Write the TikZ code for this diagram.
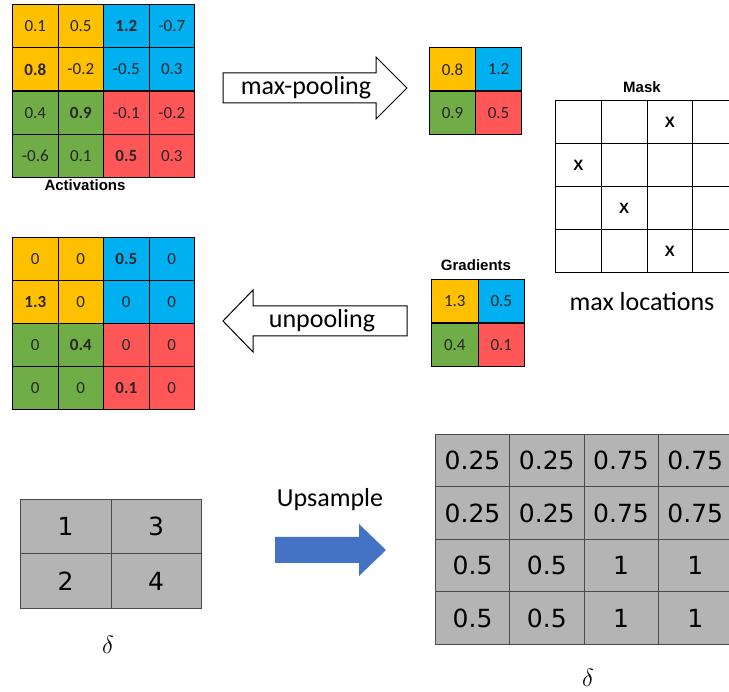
\documentclass[tikz,border=0pt]{standalone}
\usepackage{fontspec}
\setmainfont{Carlito}
\newfontfamily\labelfont{Liberation Sans}
\newfontfamily\gridfont{DejaVu Sans}

\definecolor{cellyellow}{HTML}{FFC000}
\definecolor{cellblue}{HTML}{00B0F0}
\definecolor{cellgreen}{HTML}{70AD47}
\definecolor{cellred}{HTML}{FF5757}
\definecolor{cellgray}{HTML}{B4B4B4}
\definecolor{gridline}{HTML}{4A4A4A}
\definecolor{arrowblue}{HTML}{4472C4}

% quadrant colour of a cell in a 4x4 pooling grid
\newcommand\pickcolor[2]{%
  \ifnum#1<2 \ifnum#2<2 \def\qc{cellyellow}\else\def\qc{cellblue}\fi
  \else \ifnum#2<2 \def\qc{cellgreen}\else\def\qc{cellred}\fi\fi}

\tikzset{
  cell/.style={draw=black, line width=1.1pt, inner sep=0pt, anchor=north west,
    text=black!85, font=\fontsize{17}{17}\selectfont},
  maskcell/.style={draw=black, line width=0.9pt, inner sep=0pt, anchor=north west,
    minimum width=45.75pt, minimum height=43pt, font=\labelfont\bfseries\fontsize{15}{15}\selectfont},
  graycell/.style={draw=gridline, line width=0.9pt, fill=cellgray, inner sep=0pt,
    anchor=north west, font=\gridfont\fontsize{25}{25}\selectfont},
  boldlabel/.style={font=\labelfont\bfseries\fontsize{15}{15}\selectfont},
  biglabel/.style={font=\fontsize{26}{26}\selectfont},
  deltalabel/.style={font=\fontsize{29}{29}\selectfont},
  blockarrow/.style={draw=black, line width=1pt, fill=white},
}

\begin{document}
\begin{tikzpicture}[x=1pt, y=-1pt]
\useasboundingbox (0,0) rectangle (729,692);
\clip (0,0) rectangle (729,692);

% ---- activations (4x4) ----
\foreach \r/\row in {0/{0.1,0.5,\textbf{1.2},-0.7},
                     1/{\textbf{0.8},-0.2,-0.5,0.3},
                     2/{0.4,\textbf{0.9},-0.1,-0.2},
                     3/{-0.6,0.1,\textbf{0.5},0.3}}{
  \foreach \v [count=\cc from 0] in \row {
    \pickcolor{\r}{\cc}
    \node[cell, fill=\qc, minimum width=45.5pt, minimum height=43.25pt]
      (act-\r-\cc) at ({12+45.5*\cc},{4+43.25*\r}) {\v};
  }
}
\node[boldlabel] (actlabel) at (85,185) {Activations};

% ---- max-pooling arrow ----
\draw[blockarrow] (223,73) -- (376,73) -- (376,57) -- (407,88) -- (376,119)
  -- (376,103) -- (223,103) -- cycle;
\node[biglabel] (maxpool) at (306,88) {max-pooling};

% ---- pooled output (2x2) ----
\foreach \r/\row in {0/{0.8,1.2}, 1/{0.9,0.5}}{
  \foreach \v [count=\cc from 0] in \row {
    \pickcolor{\numexpr2*\r\relax}{\numexpr2*\cc\relax}
    \node[cell, fill=\qc, minimum width=46pt, minimum height=43.5pt]
      (pool-\r-\cc) at ({429+46*\cc},{47+43.5*\r}) {\v};
  }
}

% ---- mask of max locations ----
\node[boldlabel] (masklabel) at (642,87) {Mask};
\foreach \r in {0,...,3}{
  \foreach \cc in {0,...,4}{
    \node[maskcell] (mask-\r-\cc) at ({555+45.75*\cc},{100+43*\r}) {};
  }
}
\foreach \r/\cc in {0/2, 1/0, 2/1, 3/2}{
  \node[font=\labelfont\bfseries\fontsize{15}{15}\selectfont] at (mask-\r-\cc.center) {X};
}
\node[biglabel] (maxloc) at (642,302) {max locations};

% ---- gradients (2x2) ----
\node[boldlabel] (gradlabel) at (476,265) {Gradients};
\foreach \r/\row in {0/{1.3,0.5}, 1/{0.4,0.1}}{
  \foreach \v [count=\cc from 0] in \row {
    \pickcolor{\numexpr2*\r\relax}{\numexpr2*\cc\relax}
    \node[cell, fill=\qc, minimum width=46.5pt, minimum height=43.5pt]
      (grad-\r-\cc) at ({431+46.5*\cc},{279+43.5*\r}) {\v};
  }
}

% ---- unpooling arrow ----
\draw[blockarrow] (407,306) -- (253,306) -- (253,290) -- (223,321) -- (253,352)
  -- (253,336) -- (407,336) -- cycle;
\node[biglabel] (unpool) at (322,321) {unpooling};

% ---- unpooled gradients (4x4) ----
\foreach \r/\row in {0/{0,0,\textbf{0.5},0},
                     1/{\textbf{1.3},0,0,0},
                     2/{0,\textbf{0.4},0,0},
                     3/{0,0,\textbf{0.1},0}}{
  \foreach \v [count=\cc from 0] in \row {
    \pickcolor{\r}{\cc}
    \node[cell, fill=\qc, minimum width=45.5pt, minimum height=43pt]
      (unp-\r-\cc) at ({12+45.5*\cc},{237+43*\r}) {\v};
  }
}

% ---- delta before upsampling (2x2) ----
\foreach \r/\row in {0/{1,3}, 1/{2,4}}{
  \foreach \v [count=\cc from 0] in \row {
    \node[graycell, minimum width=90.5pt, minimum height=54.5pt]
      (small-\r-\cc) at ({20+90.5*\cc},{499+54.5*\r}) {\v};
  }
}
\node[deltalabel] (deltasmall) at (108,645) {$\delta$};

% ---- upsample arrow ----
\node[biglabel] (upsample) at (330,500) {Upsample};
\fill[arrowblue] (275,537) -- (359,537) -- (359,524) -- (386,550) -- (359,576)
  -- (359,563) -- (275,563) -- cycle;

% ---- delta after upsampling (4x4) ----
\foreach \r/\row in {0/{0.25,0.25,0.75,0.75},
                     1/{0.25,0.25,0.75,0.75},
                     2/{0.5,0.5,1,1},
                     3/{0.5,0.5,1,1}}{
  \foreach \v [count=\cc from 0] in \row {
    \node[graycell, minimum width=74.25pt, minimum height=52.5pt]
      (big-\r-\cc) at ({435+74.25*\cc},{434+52.5*\r}) {\v};
  }
}
\node[deltalabel] (deltabig) at (588,678) {$\delta$};
\end{tikzpicture}
\end{document}
